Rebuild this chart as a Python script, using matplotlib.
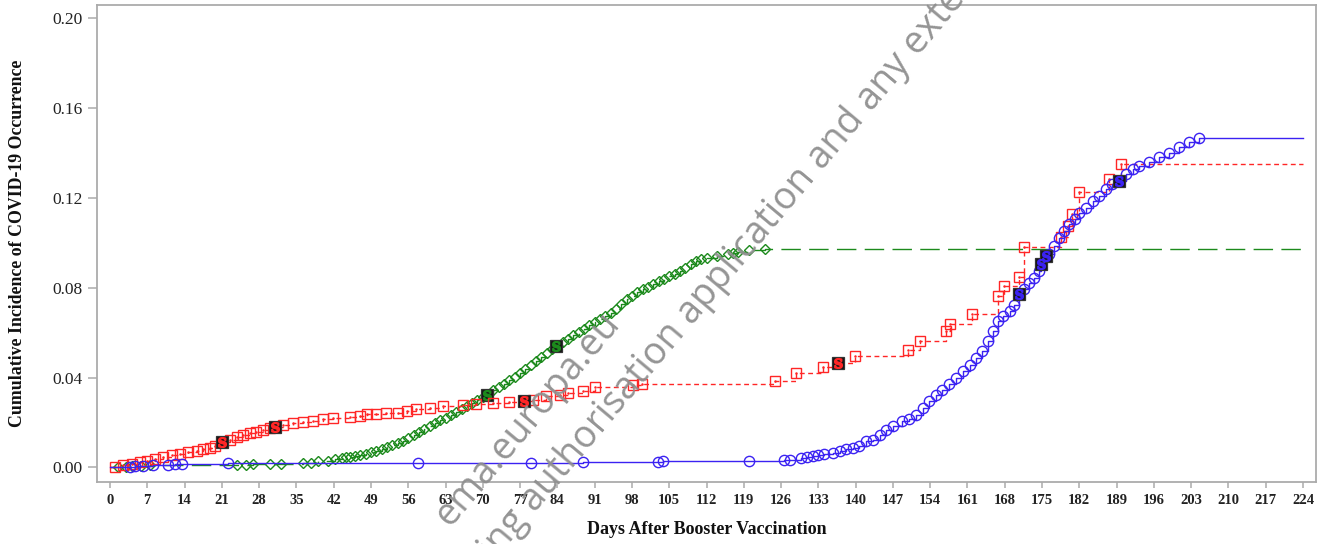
import matplotlib
matplotlib.use("Agg")
import matplotlib.pyplot as plt

# ---------------- data ----------------
START_DAY = 0
END_DAY = 224

blue_days = [3.8, 4.7, 6.2, 8.1, 10.9, 12.2, 13.5, 22.2, 57.9, 79.0, 88.9, 102.9, 103.9,
             119.9, 126.6, 127.7, 129.8, 130.9, 132.0, 133.0, 134.1, 135.7, 137.0, 138.2,
             139.5, 140.7, 142.0, 143.2, 144.5, 145.7, 147.0, 148.8, 150.1, 151.3, 152.6,
             153.8, 155.1, 156.3, 157.6, 158.9, 160.1, 161.4, 162.6, 163.8, 164.8, 165.7,
             166.7, 167.6, 168.9, 169.8, 170.7, 171.7, 172.6, 173.5, 174.5, 174.8, 175.7,
             176.4, 177.3, 178.2, 179.2, 180.1, 181.1, 182.0, 183.2, 184.5, 185.7, 187.0,
             188.2, 189.5, 190.7, 192.0, 193.2, 195.1, 197.0, 198.9, 200.8, 202.6, 204.5]
blue_vals = [0.0004, 0.0006, 0.0008, 0.0010, 0.0012, 0.0014, 0.0016, 0.0018, 0.0020, 0.0022,
             0.0024, 0.0026, 0.0028, 0.0030, 0.0033, 0.0035, 0.0042, 0.0047, 0.0051, 0.0055,
             0.0058, 0.0064, 0.0074, 0.0082, 0.0086, 0.0094, 0.0116, 0.0124, 0.0143, 0.0168,
             0.0183, 0.0208, 0.0217, 0.0235, 0.0265, 0.0295, 0.0324, 0.0347, 0.0372, 0.0399,
             0.0432, 0.0458, 0.0488, 0.0518, 0.0563, 0.0607, 0.0652, 0.0674, 0.0696, 0.0726,
             0.0771, 0.0793, 0.0823, 0.0845, 0.0875, 0.0905, 0.0942, 0.0949, 0.0987, 0.1024,
             0.1054, 0.1083, 0.1106, 0.1135, 0.1158, 0.1188, 0.1210, 0.1240, 0.1262, 0.1277,
             0.1307, 0.1329, 0.1344, 0.1359, 0.1381, 0.1403, 0.1426, 0.1448, 0.1467]
blue_s_days = [170.7, 174.8, 175.7, 189.5]

red_days = [0.9, 2.5, 4.1, 5.6, 6.9, 8.4, 10.0, 11.6, 13.1, 14.7, 16.3, 17.5, 18.8, 19.7,
            21.0, 22.5, 23.8, 25.0, 26.3, 27.5, 28.8, 30.0, 31.0, 32.5, 34.4, 36.3, 38.1,
            40.0, 41.9, 45.0, 46.9, 48.2, 50.0, 51.9, 54.1, 55.7, 57.5, 60.0, 62.5, 66.3,
            68.8, 71.9, 75.0, 77.7, 79.4, 81.9, 84.4, 86.0, 88.8, 91.0, 98.2, 99.8, 124.8,
            128.8, 133.8, 136.6, 139.8, 149.8, 152.0, 157.0, 157.7, 161.8, 166.7, 167.8,
            170.7, 171.7, 178.5, 179.8, 180.7, 181.9, 187.6, 189.8]
red_vals = [0.0004, 0.0012, 0.0017, 0.0024, 0.0030, 0.0039, 0.0046, 0.0054, 0.0061, 0.0068,
            0.0075, 0.0081, 0.0088, 0.0095, 0.0112, 0.0124, 0.0134, 0.0144, 0.0152, 0.0160,
            0.0167, 0.0174, 0.0180, 0.0191, 0.0197, 0.0202, 0.0208, 0.0214, 0.0219, 0.0223,
            0.0231, 0.0237, 0.0239, 0.0241, 0.0244, 0.0250, 0.0260, 0.0266, 0.0275, 0.0280,
            0.0283, 0.0287, 0.0292, 0.0295, 0.0302, 0.0317, 0.0324, 0.0332, 0.0339, 0.0357,
            0.0369, 0.0372, 0.0384, 0.0421, 0.0446, 0.0466, 0.0496, 0.0525, 0.0565, 0.0607,
            0.0640, 0.0685, 0.0766, 0.0808, 0.0850, 0.0982, 0.1027, 0.1076, 0.1128, 0.1228,
            0.1287, 0.1354]
red_s_days = [21.0, 31.0, 77.7, 136.6]

green_days = [1.5, 3.0, 4.1, 5.9, 7.5, 23.8, 25.6, 26.9, 30.0, 32.2, 36.3, 37.8, 39.1, 41.0,
              42.2, 43.5, 44.4, 45, 46, 47, 48, 49, 50, 51, 52, 53, 54, 55, 56, 57, 58, 59,
              60, 61, 62, 63, 64, 65, 66, 67, 68, 69, 70, 70.8, 72, 73, 74, 75, 76, 77, 78,
              79, 80, 81, 82, 83, 83.8, 85, 86, 87, 88, 89, 90, 91, 92, 93, 94, 95, 96, 97,
              98, 99, 100, 101, 102, 103, 104, 105, 106, 107, 108, 109, 110, 111, 112, 114,
              116, 117, 118, 120, 122.9]
green_vals = [0.0002, 0.0004, 0.0006, 0.0008, 0.0010, 0.0012, 0.0013, 0.0014, 0.0015, 0.0016,
              0.0019, 0.0022, 0.0027, 0.0031, 0.0037, 0.0042, 0.0045, 0.0048, 0.0051, 0.0055,
              0.0062, 0.0069, 0.0075, 0.0082, 0.0090, 0.0099, 0.0108, 0.0120, 0.0132, 0.0145,
              0.0158, 0.0170, 0.0183, 0.0197, 0.0210, 0.0222, 0.0236, 0.0248, 0.0260, 0.0273,
              0.0287, 0.0300, 0.0313, 0.0324, 0.0343, 0.0358, 0.0374, 0.0389, 0.0405, 0.0422,
              0.0440, 0.0457, 0.0475, 0.0493, 0.0510, 0.0527, 0.0540, 0.0558, 0.0573, 0.0588,
              0.0603, 0.0618, 0.0633, 0.0646, 0.0660, 0.0675, 0.0690, 0.0708, 0.0728, 0.0749,
              0.0765, 0.0780, 0.0793, 0.0805, 0.0817, 0.0829, 0.0841, 0.0853, 0.0864, 0.0876,
              0.0890, 0.0905, 0.0918, 0.0928, 0.0935, 0.0942, 0.0952, 0.0957, 0.0962, 0.0968,
              0.0972]
green_s_days = [70.8, 83.8]

x_ticks = list(range(0, 225, 7))
y_ticks = [0.00, 0.04, 0.08, 0.12, 0.16, 0.20]
x_label = "Days After Booster Vaccination"
y_label = "Cumulative Incidence of COVID-19 Occurrence"
watermark_1 = "ema.europa.eu"
watermark_2a = "marketing "
watermark_2b = "authorisation application and any extensions"

# ---------------- styling ----------------
plt.rcParams["font.family"] = ["Liberation Serif", "DejaVu Serif"]
plt.rcParams["mathtext.fontset"] = "dejavuserif"

BLUE = "#3b22f2"
RED = "#ff2626"
GREEN = "#1c8a1c"
SPINE = "#ababab"

W, H = 1329, 544
fig = plt.figure(figsize=(W / 100, H / 100), dpi=100)
ax = fig.add_axes([97 / W, 62 / H, (1316 - 97) / W, (482 - 5) / H])
ax.set_xlim(-2.44, 226.44)
ax.set_ylim(-0.00646, 0.20601)


def draw_series(days, vals, s_days, color, marker, ms, dashes, zo):
    xs = [START_DAY] + list(days) + [END_DAY]
    ys = [0.0] + list(vals) + [vals[-1]]
    line, = ax.plot(xs, ys, drawstyle="steps-post", color=color, lw=1.0, zorder=zo)
    if dashes is not None:
        line.set_dashes(dashes)
    ax.plot(days, vals, ls="none", marker=marker, ms=ms, mfc="none", mec=color,
            mew=1.0, zorder=zo + 0.1)
    sx = [d for d in days if d in s_days]
    sy = [v for d, v in zip(days, vals) if d in s_days]
    ax.plot(sx, sy, ls="none", marker="s", ms=8.5, mfc="#151515", mec="#333333",
            mew=0.9, zorder=zo + 0.2)
    ax.plot(sx, sy, ls="none", marker=r"$\mathbf{S}$", ms=7, color=color,
            zorder=zo + 0.3)


draw_series(green_days, green_vals, green_s_days, GREEN, "D", 5.6, [14, 6], 3)
draw_series(red_days, red_vals, red_s_days, RED, "s", 7.2, [3.5, 2.5], 4)
ax.plot(red_days, red_vals, ls="none", marker=".", ms=1.6, color=RED, zorder=4.15)
draw_series(blue_days, blue_vals, blue_s_days, BLUE, "o", 7.4, None, 5)

# axes / ticks
for sp in ax.spines.values():
    sp.set_color(SPINE)
    sp.set_linewidth(1.3)
ax.set_xticks(x_ticks)
ax.set_xticklabels([str(t) for t in x_ticks], fontsize=10.5, fontweight="bold")
ax.set_yticks(y_ticks)
ax.set_yticklabels([f"{t:.2f}" for t in y_ticks], fontsize=12.5)
ax.tick_params(axis="x", direction="out", length=4, width=1.1, color=SPINE, pad=5,
               labelcolor="#222222")
ax.tick_params(axis="y", direction="out", length=6.5, width=1.1, color=SPINE, pad=4,
               labelcolor="#222222")

ax.set_xlabel(x_label, fontsize=13, fontweight="bold", va="center", color="#111111")
ax.xaxis.set_label_coords(0.5, (482 - 530) / 477)
ax.set_ylabel(y_label, fontsize=12.8, fontweight="bold", va="center", color="#111111")
ax.yaxis.set_label_coords((18 - 97) / 1219, 0.5)

# watermark (partly outside the page, as in the reference)
wm = dict(rotation=50, rotation_mode="anchor", va="baseline", color="#8f8f8f",
          fontsize=27, family=["Open Sans", "DejaVu Sans"], transform=fig.transFigure,
          zorder=10, alpha=0.95)
fig.text(450 / W, 1 - 527 / H, watermark_1, ha="left", **wm)
fig.text(535 / W, 1 - 513 / H, watermark_2a, ha="right", **wm)
fig.text(535 / W, 1 - 513 / H, watermark_2b, ha="left", **wm)

fig.savefig("out.png", dpi=100)
